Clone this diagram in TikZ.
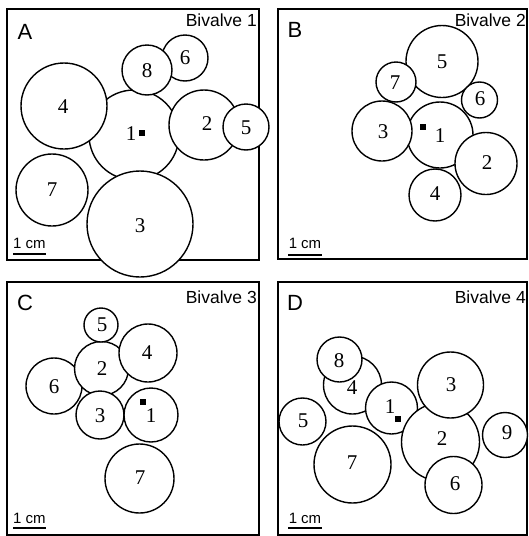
\documentclass[tikz,border=0pt]{standalone}
\usepackage{fontspec}
\setmainfont{Liberation Serif}
\setsansfont{Liberation Sans}
\begin{document}
\begin{tikzpicture}[x=1pt,y=-1pt,
  frame/.style={draw=black,line width=1.8pt},
  disc/.style={circle,draw=black,fill=white,line width=1.4pt,inner sep=0pt},
  num/.style={inner sep=0pt,font=\fontsize{21}{21}\selectfont},
  sqmark/.style={fill=black,inner sep=0pt,minimum size=5.5pt},
  letter/.style={inner sep=0pt,font=\sffamily\fontsize{22}{22}\selectfont},
  title/.style={inner sep=0pt,anchor=east,font=\sffamily\fontsize{17.5}{17.5}\selectfont},
  scaletext/.style={inner sep=0pt,font=\sffamily\fontsize{15}{15}\selectfont},
  scalebar/.style={line width=1.3pt}]
\useasboundingbox (0,0) rectangle (528,536);
% frames
\draw[frame] (7,9) rectangle (259,260);
\draw[frame] (278,9) rectangle (527,259);
\draw[frame] (7,282) rectangle (259,535);
\draw[frame] (278,282) rectangle (527,535);
% ---------- Panel A ----------
\node[disc,minimum size=90pt] (a1) at (134,135) {};
\node[disc,minimum size=46pt] (a6) at (185,58) {};
\node[disc,minimum size=50pt] (a8) at (147,70) {};
\node[disc,minimum size=86pt] (a4) at (64,106) {};
\node[disc,minimum size=70pt] (a2) at (204,125) {};
\node[disc,minimum size=46pt] (a5) at (246,127) {};
\node[disc,minimum size=106pt] (a3) at (140,224) {};
\node[disc,minimum size=72pt] (a7) at (52,190) {};
\node[num] (a1t) at (131,134) {1};
\node[sqmark] (a1m) at (142,133) {};
\node[num] (a2t) at (207,124) {2};
\node[num] (a3t) at (140,226) {3};
\node[num] (a4t) at (63,107) {4};
\node[num] (a5t) at (246,128) {5};
\node[num] (a6t) at (185,58) {6};
\node[num] (a7t) at (52,190) {7};
\node[num] (a8t) at (147,71) {8};
\node[letter] (aL) at (25,32) {A};
\node[title] (aT) at (257,20) {Bivalve 1};
\node[scaletext] (aS) at (29.5,243) {1 cm};
\coordinate (aS1) at (13,254);
\coordinate (aS2) at (46,254);
\draw[scalebar] (aS1) -- (aS2);
% ---------- Panel B ----------
\node[disc,minimum size=72pt] (b5) at (442,61.5) {};
\node[disc,minimum size=40pt] (b7) at (396,82) {};
\node[disc,minimum size=36pt] (b6) at (479.5,100) {};
\node[disc,minimum size=66pt] (b1) at (440,135) {};
\node[disc,minimum size=60pt] (b3) at (382,131) {};
\node[disc,minimum size=62pt] (b2) at (486,163.5) {};
\node[disc,minimum size=52pt] (b4) at (435,195) {};
\node[num] (b1t) at (440,136) {1};
\node[sqmark] (b1m) at (423,127) {};
\node[num] (b2t) at (487,163) {2};
\node[num] (b3t) at (383,132) {3};
\node[num] (b4t) at (435,194) {4};
\node[num] (b5t) at (442,62) {5};
\node[num] (b6t) at (480,99) {6};
\node[num] (b7t) at (395,83) {7};
\node[letter] (bL) at (295,30) {B};
\node[title] (bT) at (526,20) {Bivalve 2};
\node[scaletext] (bS) at (305,243) {1 cm};
\coordinate (bS1) at (288,255);
\coordinate (bS2) at (322,255);
\draw[scalebar] (bS1) -- (bS2);
% ---------- Panel C ----------
\node[disc,minimum size=56pt] (c6) at (54,386) {};
\node[disc,minimum size=54pt] (c2) at (101.5,368.5) {};
\node[disc,minimum size=34pt] (c5) at (101,325) {};
\node[disc,minimum size=58pt] (c4) at (148,353) {};
\node[disc,minimum size=48pt] (c3) at (100,415) {};
\node[disc,minimum size=54pt] (c1) at (151,415) {};
\node[disc,minimum size=69pt] (c7) at (139.5,478.5) {};
\node[num] (c1t) at (151,416) {1};
\node[sqmark] (c1m) at (143,402) {};
\node[num] (c2t) at (102,369) {2};
\node[num] (c3t) at (100,416) {3};
\node[num] (c4t) at (147,353) {4};
\node[num] (c5t) at (102,325) {5};
\node[num] (c6t) at (54,387) {6};
\node[num] (c7t) at (140,478) {7};
\node[letter] (cL) at (25,303) {C};
\node[title] (cT) at (257,297) {Bivalve 3};
\node[scaletext] (cS) at (29.5,518) {1 cm};
\coordinate (cS1) at (13,528);
\coordinate (cS2) at (46,528);
\draw[scalebar] (cS1) -- (cS2);
% ---------- Panel D ----------
\node[disc,minimum size=58pt] (d4) at (352.5,385) {};
\node[disc,minimum size=45pt] (d8) at (339.5,359.5) {};
\node[disc,minimum size=52pt] (d1) at (391.5,408) {};
\node[disc,minimum size=78pt] (d2) at (440.5,442) {};
\node[disc,minimum size=66pt] (d3) at (450.5,385) {};
\node[disc,minimum size=57pt] (d6) at (453.5,485) {};
\node[disc,minimum size=45pt] (d9) at (505,435) {};
\node[disc,minimum size=47pt] (d5) at (302.5,421.5) {};
\node[disc,minimum size=77pt] (d7) at (352.5,464.5) {};
\node[num] (d1t) at (390,407) {1};
\node[sqmark] (d1m) at (398,419) {};
\node[num] (d2t) at (442,439) {2};
\node[num] (d3t) at (451,385) {3};
\node[num] (d4t) at (352,388) {4};
\node[num] (d5t) at (303,421) {5};
\node[num] (d6t) at (455,484) {6};
\node[num] (d7t) at (352,463) {7};
\node[num] (d8t) at (339,361) {8};
\node[num] (d9t) at (507,433) {9};
\node[letter] (dL) at (295,303) {D};
\node[title] (dT) at (526,297) {Bivalve 4};
\node[scaletext] (dS) at (305,518) {1 cm};
\coordinate (dS1) at (288,528);
\coordinate (dS2) at (322,528);
\draw[scalebar] (dS1) -- (dS2);
\end{tikzpicture}
\end{document}
